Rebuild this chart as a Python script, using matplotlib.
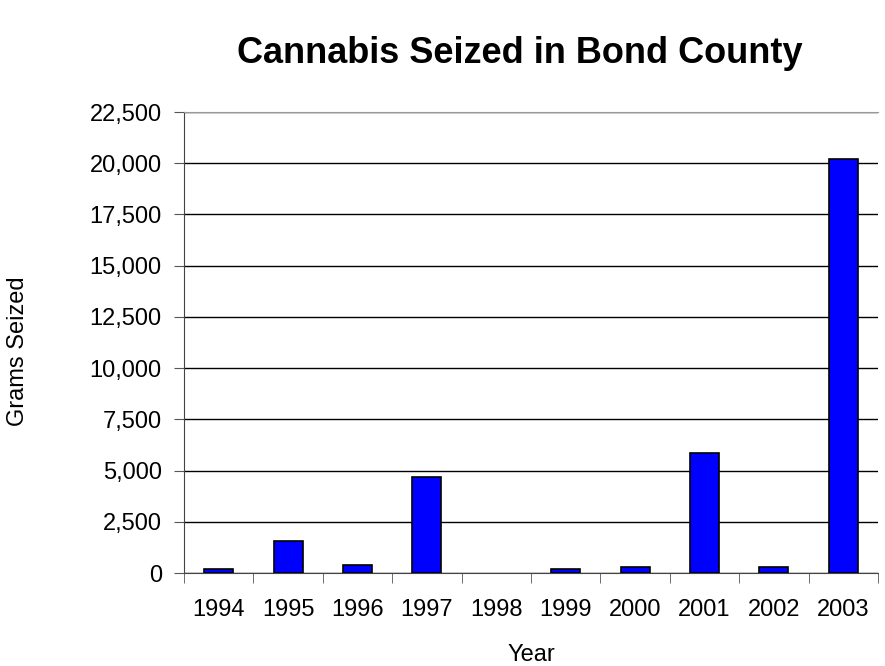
import matplotlib.pyplot as plt
from matplotlib.ticker import FuncFormatter, FixedLocator

years = ['1994', '1995', '1996', '1997', '1998', '1999', '2000', '2001', '2002', '2003']
grams = [200, 1560, 390, 4690, 0, 190, 290, 5850, 290, 20200]

plt.rcParams['font.family'] = ['Liberation Sans', 'DejaVu Sans']

fig = plt.figure(figsize=(8.85, 6.66), dpi=100)
ax = fig.add_axes([184 / 885, 1 - 573 / 666, 694 / 885, 461 / 666])

x = range(len(years))
# no outline on empty bars (1998 shows nothing in the original)
edges = [1.2 if g > 0 else 0 for g in grams]
ax.bar(x, grams, width=0.42, color='#0000ff', edgecolor='black', linewidth=edges, zorder=3)

ax.set_xlim(-0.5, len(years) - 0.5)
ax.set_ylim(0, 22500)
ax.set_yticks(range(0, 22501, 2500))
ax.yaxis.set_major_formatter(FuncFormatter(lambda v, p: f'{int(v):,}'))
ax.grid(axis='y', color='black', linewidth=1, zorder=0)

ax.set_xticks(list(x))
ax.set_xticklabels(years)
ax.tick_params(axis='x', length=0, labelsize=17, pad=19)
ax.xaxis.set_minor_locator(FixedLocator([i - 0.5 for i in range(len(years) + 1)]))
ax.tick_params(axis='x', which='minor', length=7, color='#555555', direction='out')
ax.tick_params(axis='y', length=7, labelsize=17, direction='out', color='#555555', pad=9)

ax.spines['right'].set_visible(False)
ax.spines['top'].set_color('#999999')
ax.spines['left'].set_color('#444444')
ax.spines['bottom'].set_color('#444444')

ax.set_xlabel('Year', fontsize=17, labelpad=16)
ax.set_ylabel('Grams Seized', fontsize=17)
ax.yaxis.set_label_coords((29 - 184) / 694, (573 - 351) / 461)
fig.suptitle('Cannabis Seized in Bond County', x=520 / 885, y=1 - 36 / 666,
             fontsize=26, fontweight='bold', va='top')

fig.savefig('out.png', dpi=100)
